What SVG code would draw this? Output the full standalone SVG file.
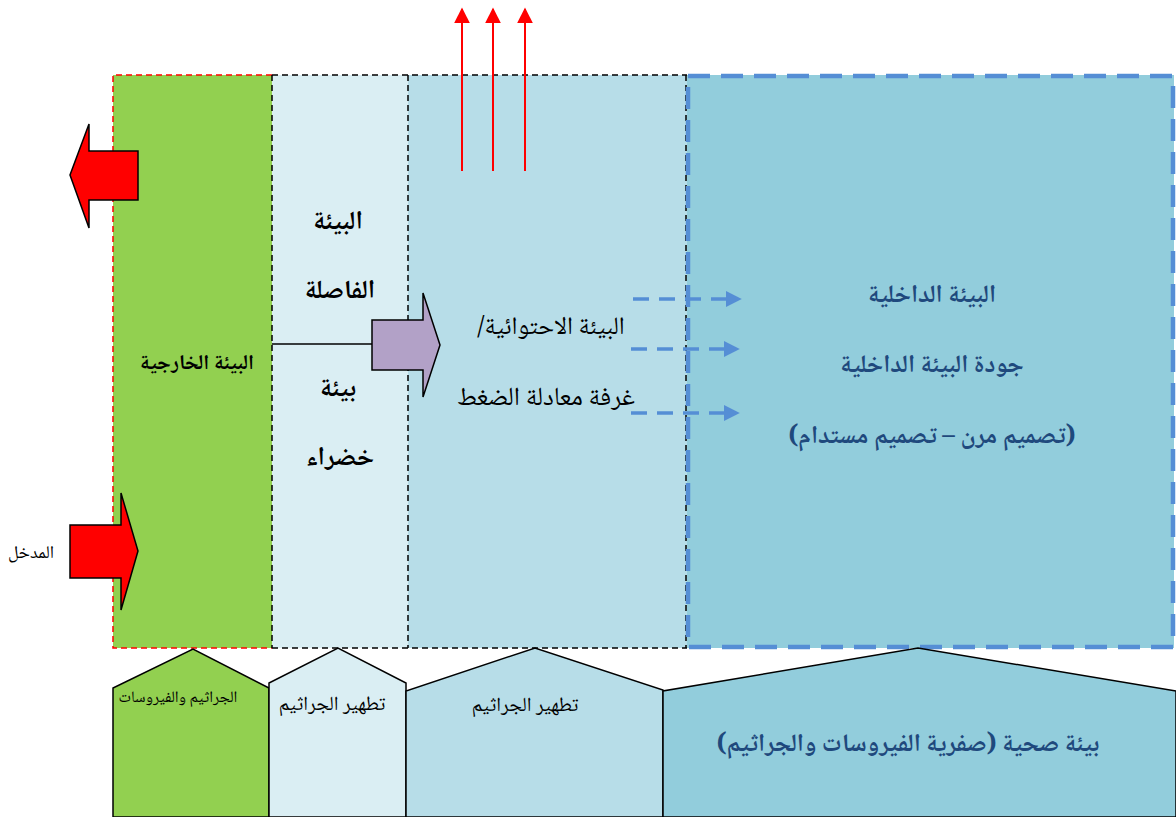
<svg xmlns="http://www.w3.org/2000/svg" width="1176" height="817" viewBox="0 0 1176 817">
  <defs>
    <marker id="redHead" viewBox="0 0 10 10" refX="9" refY="5" markerWidth="16" markerHeight="16" markerUnits="userSpaceOnUse" orient="auto">
      <path d="M0,0 L10,5 L0,10 Z" fill="#FF0000"/>
    </marker>
    <marker id="blueHead" viewBox="0 0 10 10" refX="2" refY="5" markerWidth="16" markerHeight="16" markerUnits="userSpaceOnUse" orient="auto">
      <path d="M0,0 L10,5 L0,10 Z" fill="#558ED5"/>
    </marker>
    <style>
      .ar { font-family: "Noto Naskh Arabic", "Noto Sans Arabic", "DejaVu Sans", sans-serif; direction: rtl; text-anchor: middle; }
      .blk { fill: #000; }
      .navy { fill: #1F497D; font-weight: bold; }
      .b { font-weight: bold; }
      .thinDash { fill: none; stroke: #000; stroke-width: 1.5; stroke-dasharray: 6 4; }
      .redDash { fill: none; stroke: #FF0000; stroke-width: 1.5; stroke-dasharray: 6 4; }
      .blueDash { fill: none; stroke: #558ED5; stroke-width: 4.5; stroke-dasharray: 22 11; }
      .flow { fill: none; stroke: #558ED5; stroke-width: 3.5; stroke-dasharray: 16 10; }
      .outline { stroke: #000; stroke-width: 1.5; }
    </style>
  </defs>

  <!-- column backgrounds -->
  <g id="outer-zone">
    <rect x="113" y="75" width="159" height="573" fill="#92D050"/>
    <path class="redDash" d="M272,75 H113 V648 H272"/>
    <text class="ar b blk" x="197" y="369" font-size="21">البيئة الخارجية</text>
  </g>
  <g id="buffer-zone">
    <rect x="272" y="75" width="136" height="573" fill="#DAEEF3"/>
    <text class="ar b blk" x="338" y="229" font-size="26">البيئة</text>
    <text class="ar b blk" x="340" y="298" font-size="26">الفاصلة</text>
    <text class="ar b blk" x="338" y="396" font-size="26">بيئة</text>
    <text class="ar b blk" x="340" y="465" font-size="26">خضراء</text>
  </g>
  <g id="containment-zone">
    <rect x="408" y="75" width="279" height="573" fill="#B7DDE8"/>
    <text class="ar blk" x="551" y="334" font-size="25">البيئة الاحتوائية/</text>
    <text class="ar blk" x="546" y="405" font-size="26">غرفة معادلة الضغط</text>
  </g>
  <g id="inner-zone">
    <rect x="687" y="75" width="487" height="573" fill="#92CDDC"/>
    <text class="ar navy" x="932" y="302" font-size="25">البيئة الداخلية</text>
    <text class="ar navy" x="932" y="372" font-size="25">جودة البيئة الداخلية</text>
    <text class="ar navy" x="932" y="443" font-size="25">(تصميم مرن – تصميم مستدام)</text>
  </g>

  <!-- dashed zone borders -->
  <g id="borders">
    <path class="thinDash" d="M272,75 H687 M272,648 H687 M272,75 V648 M408,75 V648 M686,75 V648"/>
    <rect class="blueDash" x="688" y="76" width="485" height="571"/>
  </g>

  <!-- bottom labels -->
  <g id="label-germs">
    <polygon class="outline" points="113,817 113,688 193,649 269,688 269,817" fill="#92D050"/>
    <text class="ar blk" x="178" y="702" font-size="16">الجراثيم والفيروسات</text>
  </g>
  <g id="label-disinfect-1">
    <polygon class="outline" points="269,817 269,683 338,648 406,683 406,817" fill="#DAEEF3"/>
    <text class="ar blk" x="332" y="710" font-size="20">تطهير الجراثيم</text>
  </g>
  <g id="label-disinfect-2">
    <polygon class="outline" points="406,817 406,691 535,648 663,690 663,817" fill="#B7DDE8"/>
    <text class="ar blk" x="525" y="711" font-size="20">تطهير الجراثيم</text>
  </g>
  <g id="label-healthy">
    <polygon class="outline" points="663,817 663,691 918,648 1176,691 1176,817" fill="#92CDDC"/>
    <text class="ar navy" x="908" y="751" font-size="25">بيئة صحية (صفرية الفيروسات والجراثيم)</text>
  </g>

  <!-- block arrows -->
  <g id="exit-arrow">
    <polygon class="outline" points="138,151 89,151 89,124 70,175 89,228 89,200 138,200" fill="#FF0000"/>
  </g>
  <g id="entry-arrow">
    <polygon class="outline" points="70,525 121,525 121,493 138,551 121,610 121,578 70,578" fill="#FF0000"/>
    <text class="ar blk" x="31" y="558" font-size="18">المدخل</text>
  </g>
  <g id="transfer-arrow">
    <polygon class="outline" points="372,320 423,320 423,293 440,345 423,397 423,370 372,370" fill="#B2A1C7"/>
  </g>

  <!-- connectors -->
  <g id="connectors">
    <line x1="272" y1="344" x2="372" y2="344" stroke="#000" stroke-width="1.5"/>
    <line x1="462" y1="171" x2="462" y2="9" stroke="#FF0000" stroke-width="2" marker-end="url(#redHead)"/>
    <line x1="493" y1="171" x2="493" y2="9" stroke="#FF0000" stroke-width="2" marker-end="url(#redHead)"/>
    <line x1="525" y1="171" x2="525" y2="9" stroke="#FF0000" stroke-width="2" marker-end="url(#redHead)"/>
    <line class="flow" x1="633" y1="299" x2="729" y2="299" marker-end="url(#blueHead)"/>
    <line class="flow" x1="631" y1="349" x2="727" y2="349" marker-end="url(#blueHead)"/>
    <line class="flow" x1="631" y1="413" x2="727" y2="413" marker-end="url(#blueHead)"/>
  </g>
</svg>
